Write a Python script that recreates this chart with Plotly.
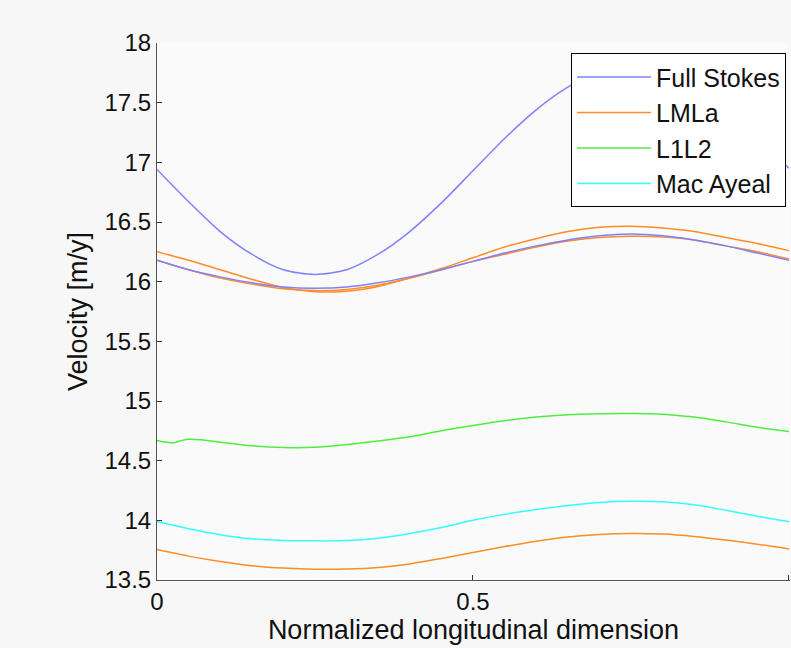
import plotly.graph_objects as go

# ---- data ----
x_grid = [0, 0.05, 0.1, 0.15, 0.2, 0.25, 0.3, 0.35, 0.4, 0.45, 0.5,
          0.55, 0.6, 0.65, 0.7, 0.75, 0.8, 0.85, 0.9, 0.95, 1.0]

full_stokes_a = [16.94, 16.67, 16.42, 16.23, 16.10, 16.06, 16.10, 16.23, 16.42, 16.66, 16.93,
                 17.20, 17.44, 17.63, 17.76, 17.80, 17.76, 17.63, 17.44, 17.20, 16.95]
full_stokes_b = [16.18, 16.10, 16.04, 15.99, 15.955, 15.945, 15.955, 15.99, 16.04, 16.10, 16.17,
                 16.24, 16.30, 16.35, 16.385, 16.40, 16.385, 16.35, 16.30, 16.24, 16.18]
lmla_a = [16.25, 16.18, 16.10, 16.02, 15.95, 15.915, 15.92, 15.96, 16.03, 16.11, 16.20,
          16.29, 16.36, 16.42, 16.455, 16.465, 16.45, 16.42, 16.37, 16.32, 16.26]
lmla_b = [16.18, 16.10, 16.03, 15.98, 15.94, 15.925, 15.935, 15.97, 16.03, 16.10, 16.17,
          16.23, 16.29, 16.34, 16.37, 16.38, 16.375, 16.35, 16.30, 16.25, 16.19]
lmla_c = [13.755, 13.70, 13.655, 13.62, 13.60, 13.59, 13.592, 13.605, 13.635, 13.68, 13.73,
          13.78, 13.825, 13.86, 13.882, 13.89, 13.885, 13.865, 13.835, 13.80, 13.76]
mac_ayeal = [13.99, 13.93, 13.88, 13.845, 13.832, 13.828, 13.83, 13.85, 13.89, 13.94, 14.00,
             14.05, 14.09, 14.125, 14.15, 14.16, 14.155, 14.13, 14.085, 14.035, 13.99]

l1l2_x = [0, 0.015, 0.027, 0.04, 0.05, 0.07, 0.1, 0.15, 0.2, 0.25, 0.3, 0.35, 0.4, 0.45, 0.5,
          0.55, 0.6, 0.65, 0.7, 0.75, 0.8, 0.85, 0.9, 0.95, 1.0]
l1l2 = [14.67, 14.655, 14.65, 14.67, 14.68, 14.675, 14.655, 14.625, 14.61, 14.612, 14.635,
        14.665, 14.70, 14.75, 14.795, 14.835, 14.865, 14.885, 14.893, 14.895, 14.89, 14.865,
        14.825, 14.78, 14.745]

x_ticks = [0, 0.5, 1]
y_ticks = [13.5, 14, 14.5, 15, 15.5, 16, 16.5, 17, 17.5, 18]

C_FS = "#8080ff"
C_LM = "#ff8c26"
C_L1 = "#4cf03c"
C_MA = "#33ffff"
FONT = "Liberation Sans, Arial, sans-serif"


def line(color):
    return dict(color=color, width=1.5, shape="spline", smoothing=0.8)


fig = go.Figure()
fig.add_trace(go.Scatter(x=x_grid, y=full_stokes_a, mode="lines", name="Full Stokes", line=line(C_FS)))
fig.add_trace(go.Scatter(x=x_grid, y=lmla_a, mode="lines", name="LMLa", line=line(C_LM)))
fig.add_trace(go.Scatter(x=l1l2_x, y=l1l2, mode="lines", name="L1L2", line=line(C_L1)))
fig.add_trace(go.Scatter(x=x_grid, y=mac_ayeal, mode="lines", name="Mac Ayeal", line=line(C_MA)))
fig.add_trace(go.Scatter(x=x_grid, y=lmla_b, mode="lines", showlegend=False, line=line(C_LM)))
fig.add_trace(go.Scatter(x=x_grid, y=full_stokes_b, mode="lines", showlegend=False, line=line(C_FS)))
fig.add_trace(go.Scatter(x=x_grid, y=lmla_c, mode="lines", showlegend=False, line=line(C_LM)))

axis_common = dict(showgrid=False, zeroline=False, showline=True, linecolor="#555555",
                   linewidth=1, ticks="inside", ticklen=5, tickcolor="#333333",
                   tickfont=dict(family=FONT, size=24, color="#111111"), mirror=False)

fig.update_layout(
    width=791, height=648,
    margin=dict(l=157, r=1, t=43, b=68, autoexpand=False),
    paper_bgcolor="#f7f7f7", plot_bgcolor="#fafafa",
    font=dict(family=FONT, size=24, color="#111111"),
    xaxis=dict(range=[0, 1.0016], tickvals=x_ticks, ticktext=["0", "0.5", "1"],
               title=dict(text="Normalized longitudinal dimension", standoff=2,
                          font=dict(family=FONT, size=27, color="#111111")),
               **axis_common),
    yaxis=dict(range=[13.5, 18], tickvals=y_ticks,
               ticktext=["13.5", "14", "14.5", "15", "15.5", "16", "16.5", "17", "17.5", "18"],
               title=dict(text="Velocity [m/y]", standoff=9,
                          font=dict(family=FONT, size=27, color="#111111")),
               **axis_common),
    legend=dict(x=0.9937, y=0.981, xanchor="right", yanchor="top",
                bgcolor="#ffffff", bordercolor="#000000", borderwidth=1,
                font=dict(family=FONT, size=25, color="#111111"),
                tracegroupgap=0, itemwidth=74),
    showlegend=True,
)

fig.write_html("out.html")
